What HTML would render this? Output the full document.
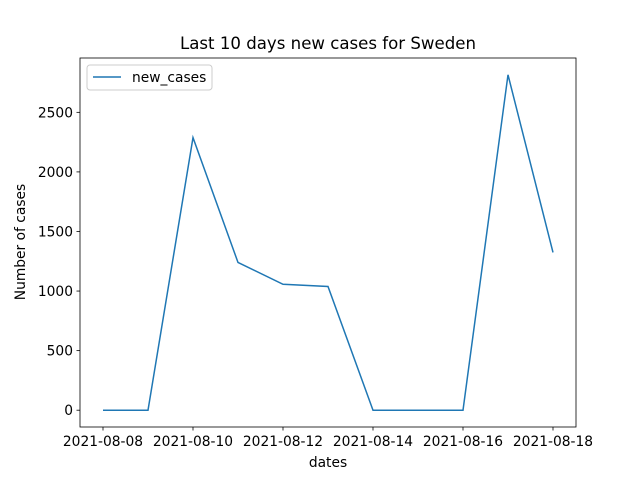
<!DOCTYPE html>
<html><head><meta charset="utf-8"><style>body{margin:0;background:#fff}svg{font-family:"DejaVu Sans","Liberation Sans",sans-serif}</style></head>
<body>
<svg id="c" width="640" height="480" xmlns="http://www.w3.org/2000/svg"></svg>
<script>
const dates=["2021-08-08","2021-08-09","2021-08-10","2021-08-11","2021-08-12","2021-08-13","2021-08-14","2021-08-15","2021-08-16","2021-08-17","2021-08-18"];
const newCases=[0,0,2288,1240,1057,1038,0,0,0,2815,1324];
const yTicks=[0,500,1000,1500,2000,2500];
const xTickLabels=["2021-08-08","2021-08-10","2021-08-12","2021-08-14","2021-08-16","2021-08-18"];
const L=80,R=576,T=58,B=427;
const yMin=-141,yMax=2956;
const xs=i=>103+i*(553-103)/10;
const ys=v=>B-(v-yMin)/(yMax-yMin)*(B-T);
const svg=document.getElementById('c');
const NS="http://www.w3.org/2000/svg";
function mk(t,a,txt){const e=document.createElementNS(NS,t);for(const k in a)e.setAttribute(k,a[k]);if(txt!=null)e.textContent=txt;svg.appendChild(e);return e;}
let e;
e=mk('text',{x:328,y:49,'text-anchor':'middle','font-size':16.6},'Last 10 days new cases for Sweden');


yTicks.forEach(v=>{const y=ys(v);
e=mk('line',{x1:L-3.5,x2:L,y1:y,y2:y,stroke:'#000','stroke-width':0.8});


e=mk('text',{x:L-7,y:y+5,'text-anchor':'end','font-size':13.8},String(v));

});
xTickLabels.forEach(d=>{const x=xs(dates.indexOf(d));
e=mk('line',{x1:x,x2:x,y1:B,y2:B+3.5,stroke:'#000','stroke-width':0.8});


e=mk('text',{x:x,y:B+19,'text-anchor':'middle','font-size':13.8},d);

});
e=mk('polyline',{points:newCases.map((v,i)=>xs(i)+','+ys(v)).join(' '),fill:'none',stroke:'#1f77b4','stroke-width':1.5});


e=mk('rect',{x:L,y:T,width:R-L,height:B-T,fill:'none',stroke:'#000','stroke-width':0.8});


e=mk('text',{x:328,y:467,'text-anchor':'middle','font-size':13.8},'dates');


e=mk('text',{x:25,y:242,'text-anchor':'middle','font-size':13.8,transform:'rotate(-90 25 242)'},'Number of cases');


e=mk('rect',{x:87,y:65,width:125,height:25,rx:3,fill:'#fff',stroke:'#ccc','stroke-width':1});


e=mk('line',{x1:93,x2:121,y1:77,y2:77,stroke:'#1f77b4','stroke-width':1.5});


e=mk('text',{x:132,y:82,'font-size':13.8},'new_cases');


</script>
</body></html>
